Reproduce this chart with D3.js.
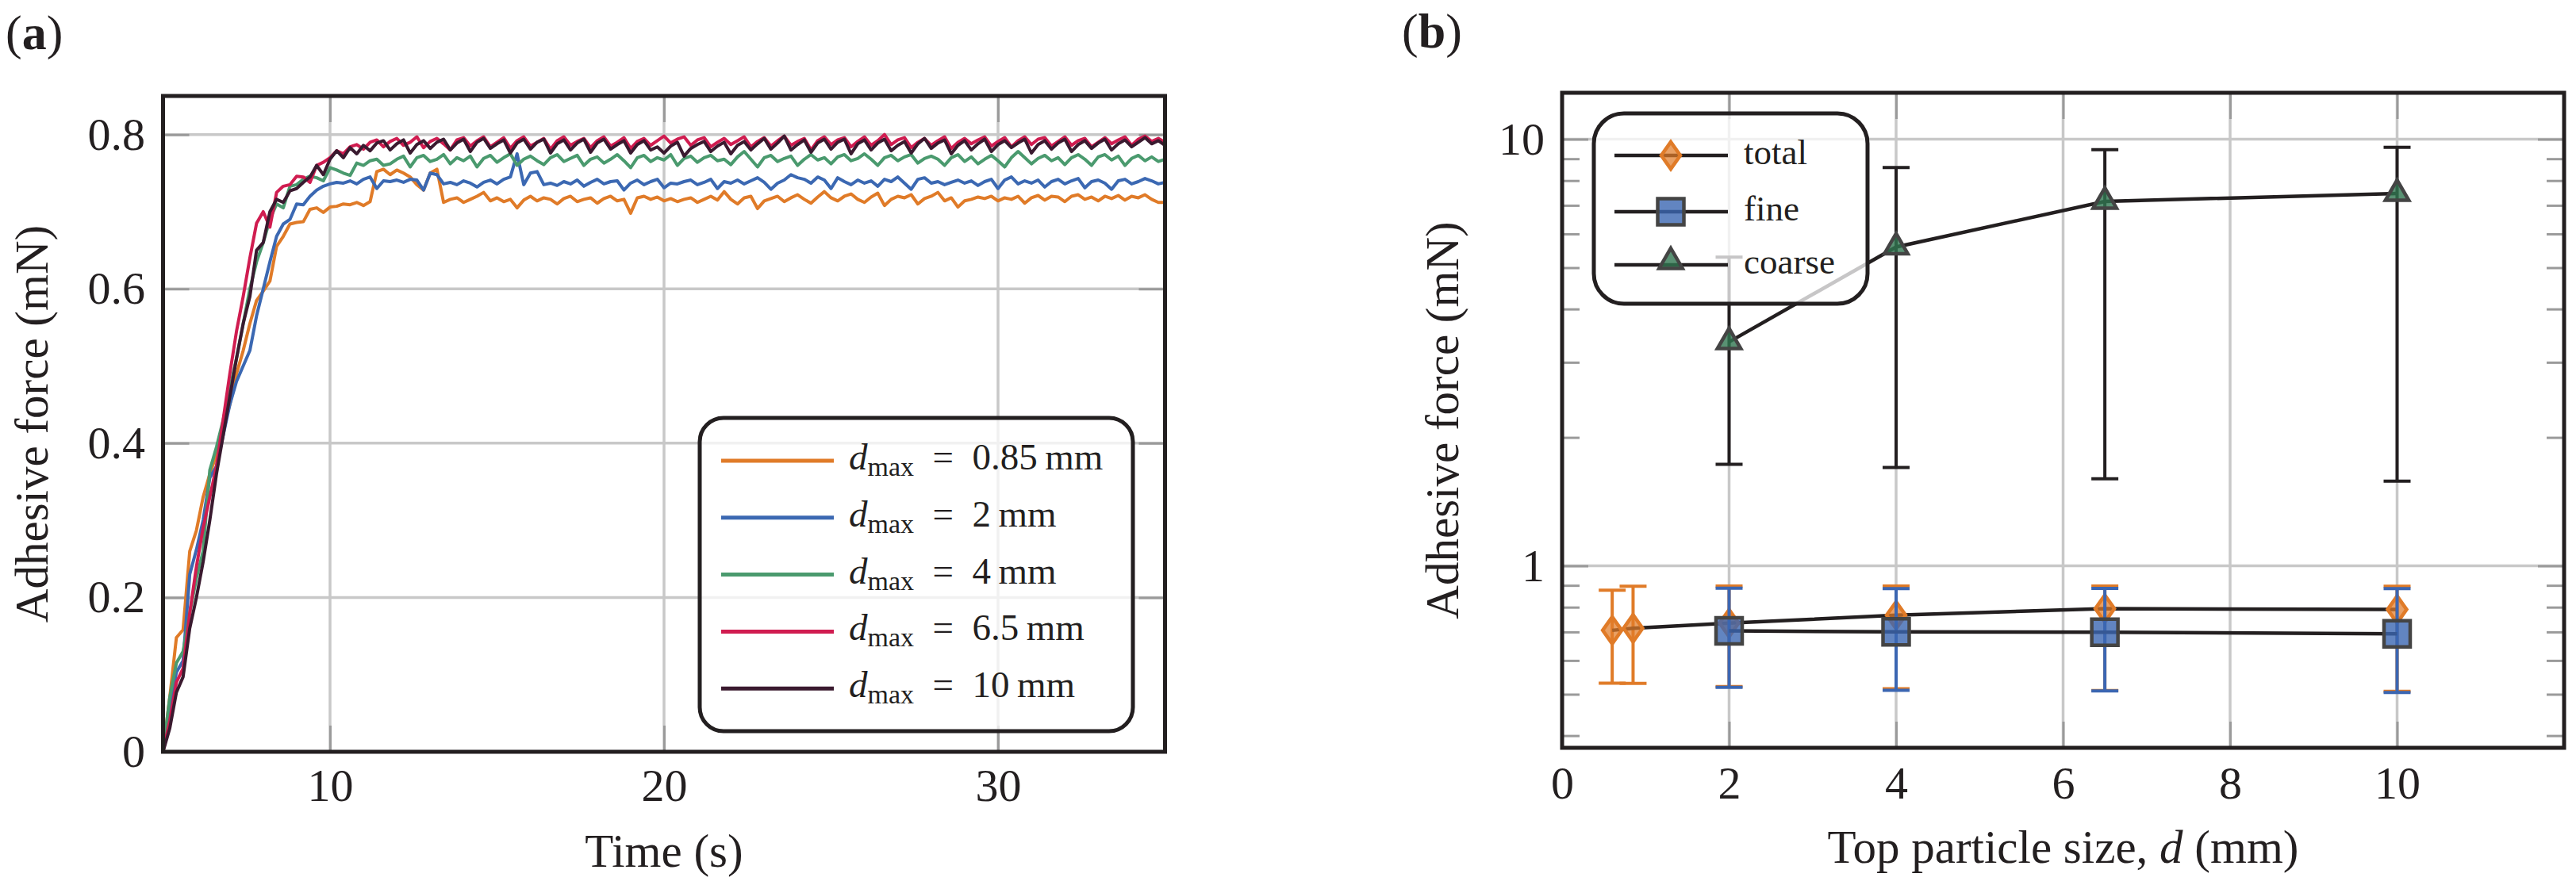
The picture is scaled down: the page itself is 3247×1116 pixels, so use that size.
<!DOCTYPE html>
<html><head><meta charset="utf-8">
<script src="https://cdn.jsdelivr.net/npm/d3@7"></script>
<style>
body{margin:0;background:#fff}
svg{display:block}
svg text{font-family:"Liberation Serif","DejaVu Serif","Times New Roman",serif !important;fill:#231f20}
</style>
</head><body>
<svg id="c" width="3247" height="1116" font-family="Liberation Serif, DejaVu Serif, serif"></svg>
<script>
// ---------- Panel (a) data ----------
const time = [5,5.2,5.4,5.6,5.8,6,6.2,6.4,6.6,6.8,7,7.2,7.4,7.6,7.8,8,8.2,8.4,8.6,8.8,9,9.2,9.4,9.6,9.8,10,10.2,10.4,10.6,10.8,11,11.2,11.4,11.6,11.8,12,12.2,12.4,12.6,12.8,13,13.2,13.4,13.6,13.8,14,14.2,14.4,14.6,14.8,15,15.2,15.4,15.6,15.8,16,16.2,16.4,16.6,16.8,17,17.2,17.4,17.6,17.8,18,18.2,18.4,18.6,18.8,19,19.2,19.4,19.6,19.8,20,20.2,20.4,20.6,20.8,21,21.2,21.4,21.6,21.8,22,22.2,22.4,22.6,22.8,23,23.2,23.4,23.6,23.8,24,24.2,24.4,24.6,24.8,25,25.2,25.4,25.6,25.8,26,26.2,26.4,26.6,26.8,27,27.2,27.4,27.6,27.8,28,28.2,28.4,28.6,28.8,29,29.2,29.4,29.6,29.8,30,30.2,30.4,30.6,30.8,31,31.2,31.4,31.6,31.8,32,32.2,32.4,32.6,32.8,33,33.2,33.4,33.6,33.8,34,34.2,34.4,34.6,34.8,35];

const force085 = [0,.07,.148,.158,.26, .287,.33,.36,.385,.42, .45,.49,.52,.555,.585, .597,.61,.655,.668,.684, .686,.687,.703,.705,.699, .706,.707,.71,.709,.712, .708,.713,.752,.755,.748, .754,.75,.745,.735,.728, .75,.755,.712,.716,.718, .712,.716,.72,.725,.714, .718,.713,.716,.705,.715, .72,.714,.718,.716,.71, .717,.72,.713,.716,.718, .711,.717,.72,.714,.716, .698,.718,.72,.716,.719, .714,.717,.713,.716,.718, .712,.716,.72,.715,.726, .716,.71,.718,.72,.704, .714,.717,.72,.713,.718, .722,.716,.711,.719,.726, .718,.714,.72,.723,.716, .712,.719,.724,.708,.716, .72,.718,.722,.71,.717, .72,.725,.714,.718,.706, .714,.716,.719,.717,.72, .714,.718,.716,.72,.711, .718,.721,.715,.72,.719, .713,.72,.722,.716,.719, .714,.72,.717,.721,.715, .72,.718,.722,.716,.712, .712];

const force2 = [0,.057,.103,.118,.23, .262,.3,.355,.37,.41, .45,.48,.5,.52,.565, .6,.635,.668,.684,.69, .71,.709,.72,.728,.733, .736,.738,.737,.74,.736, .742,.745,.73,.74,.739, .741,.738,.742,.741,.728, .75,.748,.736,.738,.735, .74,.737,.732,.738,.741, .736,.742,.745,.775,.735, .75,.752,.735,.737,.734, .739,.736,.741,.733,.738, .742,.736,.739,.74,.728, .737,.741,.735,.739,.742, .731,.737,.736,.739,.741, .735,.738,.742,.73,.739, .737,.741,.736,.74,.744, .738,.729,.737,.741,.748, .744,.742,.737,.745,.741, .73,.744,.739,.735,.741, .737,.74,.733,.742,.739, .745,.737,.729,.742,.744, .737,.739,.735,.738,.741, .737,.74,.734,.739,.742, .73,.741,.745,.736,.74, .737,.741,.732,.739,.742, .736,.74,.743,.731,.739, .741,.737,.729,.74,.742, .736,.739,.743,.74,.736, .738];

const force4 = [0,.07,.115,.13,.18, .225,.26,.365,.395,.43, .47,.51,.555,.6,.635, .66,.69,.71,.705,.733, .735,.742,.746,.744,.74, .757,.754,.75,.747,.763, .76,.766,.768,.76,.762, .768,.772,.758,.77,.773, .765,.768,.774,.762,.77, .766,.772,.758,.769,.773, .764,.77,.775,.76,.768, .772,.766,.761,.77,.774, .765,.769,.773,.76,.768, .771,.763,.768,.774,.766, .757,.77,.773,.765,.77, .767,.774,.76,.769,.772, .764,.77,.773,.766,.768, .761,.771,.778,.768,.758, .77,.773,.765,.769,.772, .76,.768,.774,.767,.77, .762,.771,.774,.766,.769, .775,.768,.76,.77,.773, .766,.771,.774,.763,.769, .772,.768,.76,.77,.774, .765,.771,.762,.768,.773, .766,.758,.77,.778,.77, .762,.769,.773,.766,.77, .761,.77,.774,.768,.76, .771,.774,.767,.772,.76, .769,.773,.766,.771,.765, .768];

const force65 = [0,.04,.09,.108,.18, .24,.29,.33,.37,.43, .49,.545,.59,.64,.685, .70,.68,.725,.733,.735, .746,.745,.738,.76,.764, .77,.779,.775,.784,.787, .781,.79,.793,.784,.791, .795,.786,.79,.797,.783, .791,.795,.788,.78,.793, .796,.785,.792,.797,.784, .79,.796,.782,.792,.797, .785,.79,.795,.781,.792, .797,.786,.791,.795,.783, .792,.797,.785,.79,.796, .782,.791,.795,.786,.792, .798,.789,.794,.797,.786, .793,.796,.784,.79,.795, .787,.792,.797,.784,.791, .796,.785,.792,.798,.786, .791,.795,.78,.792,.797, .787,.793,.796,.784,.791, .797,.786,.792,.8,.787, .793,.796,.783,.79,.795, .786,.792,.797,.782,.79, .795,.788,.793,.797,.785, .791,.796,.784,.792,.797, .787,.794,.796,.785,.791, .797,.786,.792,.795,.784, .79,.796,.788,.793,.797, .786,.794,.798,.791,.795, .79];

const force10 = [0,.03,.077,.097,.16, .2,.246,.3,.36,.41, .46,.51,.555,.59,.65, .66,.70,.716,.712,.727, .73,.738,.745,.76,.748, .768,.779,.77,.783,.775, .786,.779,.789,.792,.78, .788,.793,.776,.787,.792, .782,.79,.794,.78,.789, .794,.778,.79,.795,.782, .788,.793,.776,.789,.794, .781,.79,.794,.776,.788, .793,.78,.789,.794,.777, .789,.794,.781,.787,.792, .776,.787,.792,.78,.784, .776,.785,.79,.772,.782, .787,.791,.778,.785,.79, .775,.786,.791,.78,.788, .795,.781,.789,.798,.78, .787,.793,.777,.789,.794, .781,.79,.794,.775,.788, .793,.78,.789,.794,.779, .786,.791,.776,.788,.795, .782,.789,.793,.775,.786, .792,.78,.788,.794,.778, .787,.792,.783,.789,.794, .776,.787,.792,.781,.789, .794,.778,.787,.792,.782, .789,.794,.78,.788,.793, .784,.79,.796,.788,.792, .786];

const seriesLabelsA = ["0.85", "2", "4", "6.5", "10"];
const timeDomain = [5, 35];
const forceDomainA = [0, 0.85];
const timeTicks = [10, 20, 30];
const forceTicksA = [0, 0.2, 0.4, 0.6, 0.8];

// ---------- Panel (b) data ----------
const sizeTotal = [0.6, 0.85, 2, 4, 6.5, 10];
const totalMean = [0.706, 0.714, 0.734, 0.766, 0.794, 0.79];
const totalLow  = [0.531, 0.53, 0.521, 0.515, 0.51, 0.508];
const totalHigh = [0.877, 0.896, 0.897, 0.897, 0.897, 0.896];
const sizeParts = [2, 4, 6.5, 10];
const fineMean = [0.704, 0.70, 0.699, 0.693];
const fineLow  = [0.519, 0.511, 0.509, 0.505];
const fineHigh = [0.886, 0.884, 0.885, 0.884];
const coarseMean = [3.35, 5.59, 7.15, 7.46];
const coarseLow  = [1.73, 1.70, 1.60, 1.58];
const coarseHigh = [5.29, 8.58, 9.45, 9.57];
const seriesLabelsB = ["total", "fine", "coarse"];
const sizeDomain = [0, 12];
const forceDomainB = [0.3745, 12.85];
const sizeTicks = [0, 2, 4, 6, 8, 10];
const forceTicksB = [1, 10];

// ---------- styles ----------
const INK = "#231f20", GRID = "#c8c8c8", TICK = "#9a9a9a";
const colorsA = ["#e07b28", "#3b68b2", "#4a9a6e", "#d01c50", "#3a1a2f"];
const FS = 58, LFS = 59;
const FONT = '"Liberation Serif", "DejaVu Serif", serif';

const svg = d3.select("#c");

function frame(g, P) {
  g.append("rect").attr("x", P.l).attr("y", P.t).attr("width", P.r - P.l).attr("height", P.b - P.t)
    .attr("fill", "none").attr("stroke", INK).attr("stroke-width", 5);
}
function styleAxis(sel, showText) {
  sel.attr("font-family", null).attr("font-size", null);
  sel.select(".domain").remove();
  sel.selectAll(".tick line").attr("stroke", TICK).attr("stroke-width", 3);
  sel.selectAll(".tick text").attr("font-size", FS).attr("fill", INK).style("font-family", FONT);
  if (!showText) sel.selectAll(".tick text").remove();
}

// =============== Panel (a) ===============
const A = {l: 205.5, r: 1468.5, t: 121, b: 948};
const xA = d3.scaleLinear().domain(timeDomain).range([A.l, A.r]);
const yA = d3.scaleLinear().domain(forceDomainA).range([A.b, A.t]);
const gA = svg.append("g");

gA.append("g").selectAll("line").data(timeTicks).join("line")
  .attr("x1", d => xA(d)).attr("x2", d => xA(d)).attr("y1", A.t).attr("y2", A.b)
  .attr("stroke", GRID).attr("stroke-width", 3.5);
gA.append("g").selectAll("line").data(forceTicksA.filter(d => d > 0)).join("line")
  .attr("y1", d => yA(d)).attr("y2", d => yA(d)).attr("x1", A.l).attr("x2", A.r)
  .attr("stroke", GRID).attr("stroke-width", 3.5);

gA.append("g").attr("transform", `translate(0,${A.b})`)
  .call(d3.axisBottom(xA).tickValues(timeTicks).tickSize(-33).tickPadding(21).tickFormat(d3.format("d")))
  .call(s => styleAxis(s, true));
gA.append("g").attr("transform", `translate(0,${A.t})`)
  .call(d3.axisTop(xA).tickValues(timeTicks).tickSize(-33))
  .call(s => styleAxis(s, false));
gA.append("g").attr("transform", `translate(${A.l},0)`)
  .call(d3.axisLeft(yA).tickValues(forceTicksA).tickSize(-33).tickPadding(22.5)
        .tickFormat(d => d === 0 ? "0" : d3.format(".1f")(d)))
  .call(s => styleAxis(s, true));
gA.append("g").attr("transform", `translate(${A.r},0)`)
  .call(d3.axisRight(yA).tickValues(forceTicksA).tickSize(-33))
  .call(s => styleAxis(s, false));

const allA = [force085, force2, force4, force65, force10];
const lineA = d3.line().x((d, i) => xA(time[i])).y(d => yA(d)).defined((d, i) => time[i] !== undefined);
allA.forEach((vals, k) => {
  gA.append("path").datum(vals).attr("d", lineA).attr("fill", "none")
    .attr("stroke", colorsA[k]).attr("stroke-width", 4).attr("stroke-linejoin", "round");
});
frame(gA, A);

const LA = {x: 882, y: 527, w: 546, h: 395};
const lgA = gA.append("g");
lgA.append("rect").attr("x", LA.x).attr("y", LA.y).attr("width", LA.w).attr("height", LA.h)
  .attr("rx", 30).attr("fill", "#fff").attr("fill-opacity", 0.75).attr("stroke", INK).attr("stroke-width", 5);
seriesLabelsA.forEach((lab, k) => {
  const yy = 581 + k * 71.8;
  lgA.append("line").attr("x1", 909).attr("x2", 1051).attr("y1", yy).attr("y2", yy)
    .attr("stroke", colorsA[k]).attr("stroke-width", 5);
  const t = lgA.append("text").attr("x", 1070).attr("y", yy + 11).attr("font-size", 47).style("font-family", FONT);
  t.append("tspan").attr("font-style", "italic").text("d");
  t.append("tspan").attr("font-size", 34).attr("dy", 8).text("max");
  t.append("tspan").attr("dy", -8).text("\u2002=\u2002" + lab + "\u2009mm");
});

gA.append("text").attr("x", (A.l + A.r) / 2).attr("y", 1093).attr("text-anchor", "middle")
  .attr("font-size", LFS).style("font-family", FONT).text("Time (s)");
gA.append("text").attr("transform", `translate(60,${(A.t + A.b) / 2}) rotate(-90)`)
  .attr("text-anchor", "middle").attr("font-size", LFS).style("font-family", FONT).text("Adhesive force (mN)");
const pa = gA.append("text").attr("x", 7).attr("y", 62).attr("font-size", 62).style("font-family", FONT);
pa.append("tspan").text("(");
pa.append("tspan").attr("font-weight", "bold").text("a");
pa.append("tspan").text(")");

// =============== Panel (b) ===============
const B = {l: 1969, r: 3232, t: 117, b: 943};
const xB = d3.scaleLinear().domain(sizeDomain).range([B.l, B.r]);
const yB = d3.scaleLog().domain(forceDomainB).range([B.b, B.t]);
const gB = svg.append("g");

gB.append("g").selectAll("line").data(sizeTicks.filter(d => d > 0)).join("line")
  .attr("x1", d => xB(d)).attr("x2", d => xB(d)).attr("y1", B.t).attr("y2", B.b)
  .attr("stroke", GRID).attr("stroke-width", 3.5);
gB.append("g").selectAll("line").data(forceTicksB).join("line")
  .attr("y1", d => yB(d)).attr("y2", d => yB(d)).attr("x1", B.l).attr("x2", B.r)
  .attr("stroke", GRID).attr("stroke-width", 3.5);

const minorB = yB.ticks().filter(d => forceTicksB.indexOf(d) < 0);
gB.append("g").attr("transform", `translate(0,${B.b})`)
  .call(d3.axisBottom(xB).tickValues(sizeTicks).tickSize(-33).tickPadding(23).tickFormat(d3.format("d")))
  .call(s => styleAxis(s, true));
gB.append("g").attr("transform", `translate(0,${B.t})`)
  .call(d3.axisTop(xB).tickValues(sizeTicks).tickSize(-33))
  .call(s => styleAxis(s, false));
gB.append("g").attr("transform", `translate(${B.l},0)`)
  .call(d3.axisLeft(yB).tickValues(forceTicksB).tickSize(-33).tickPadding(22).tickFormat(d3.format("d")))
  .call(s => styleAxis(s, true));
gB.append("g").attr("transform", `translate(${B.r},0)`)
  .call(d3.axisRight(yB).tickValues(forceTicksB).tickSize(-33))
  .call(s => styleAxis(s, false));
gB.append("g").attr("transform", `translate(${B.l},0)`)
  .call(d3.axisLeft(yB).tickValues(minorB).tickSize(-22).tickFormat(""))
  .call(s => styleAxis(s, false));
gB.append("g").attr("transform", `translate(${B.r},0)`)
  .call(d3.axisRight(yB).tickValues(minorB).tickSize(-22).tickFormat(""))
  .call(s => styleAxis(s, false));

const diamondPath = "M0,-17L12,0L0,17L-12,0Z";
const squarePath = d3.symbol(d3.symbolSquare, 33 * 33)();
const trianglePath = d3.symbol(d3.symbolTriangle, 3 * Math.sqrt(3) * 17 * 17 / 4)();

const seriesB = [
  {xs: sizeTotal, m: totalMean, lo: totalLow, hi: totalHigh, err: "#e07b28", path: diamondPath, fill: "#e07b28", stroke: "#e07b28", op: 0.72},
  {xs: sizeParts, m: fineMean, lo: fineLow, hi: fineHigh, err: "#3b66b2", path: squarePath, fill: "#3b66b2", stroke: "#444444", op: 0.8},
  {xs: sizeParts, m: coarseMean, lo: coarseLow, hi: coarseHigh, err: INK, path: trianglePath, fill: "#2f7550", stroke: "#444444", op: 0.8}
];
const lineB = d3.line().x(d => xB(d[0])).y(d => yB(d[1]));
seriesB.forEach(s => {
  const pts = s.xs.map((x, i) => [x, s.m[i], s.lo[i], s.hi[i]]);
  const g = gB.append("g");
  g.selectAll(".eb").data(pts).join("line")
    .attr("x1", d => xB(d[0])).attr("x2", d => xB(d[0])).attr("y1", d => yB(d[2])).attr("y2", d => yB(d[3]))
    .attr("stroke", s.err).attr("stroke-width", 4);
  [2, 3].forEach(j => {
    g.selectAll(".cap" + j).data(pts).join("line")
      .attr("x1", d => xB(d[0]) - 17).attr("x2", d => xB(d[0]) + 17)
      .attr("y1", d => yB(d[j])).attr("y2", d => yB(d[j]))
      .attr("stroke", s.err).attr("stroke-width", 4);
  });
  g.append("path").datum(pts).attr("d", lineB).attr("fill", "none").attr("stroke", INK).attr("stroke-width", 4.5);
  g.selectAll(".mk").data(pts).join("path")
    .attr("transform", d => `translate(${xB(d[0])},${yB(d[1])})`)
    .attr("d", s.path).attr("fill", s.fill).attr("fill-opacity", s.op)
    .attr("stroke", s.stroke).attr("stroke-width", 4.5);
});
frame(gB, B);

const LB = {x: 2009, y: 143, w: 345, h: 240};
const lgB = gB.append("g");
lgB.append("rect").attr("x", LB.x).attr("y", LB.y).attr("width", LB.w).attr("height", LB.h)
  .attr("rx", 38).attr("fill", "#fff").attr("fill-opacity", 0.75).attr("stroke", INK).attr("stroke-width", 5);
const rowsB = [196, 267, 334];
seriesB.forEach((s, k) => {
  const yy = rowsB[k];
  lgB.append("line").attr("x1", 2035).attr("x2", 2178).attr("y1", yy).attr("y2", yy)
    .attr("stroke", INK).attr("stroke-width", 4.5);
  lgB.append("path").attr("transform", `translate(2106,${k === 2 ? yy - 4 : yy})`).attr("d", s.path)
    .attr("fill", s.fill).attr("fill-opacity", s.op).attr("stroke", s.stroke).attr("stroke-width", 4.5);
  lgB.append("text").attr("x", 2198).attr("y", yy + 11).attr("font-size", 45).style("font-family", FONT).text(seriesLabelsB[k]);
});

const xl = gB.append("text").attr("x", (B.l + B.r) / 2).attr("y", 1088).attr("text-anchor", "middle")
  .attr("font-size", LFS).style("font-family", FONT);
xl.append("tspan").text("Top particle size, ");
xl.append("tspan").attr("font-style", "italic").text("d");
xl.append("tspan").text(" (mm)");
gB.append("text").attr("transform", `translate(1838,${(B.t + B.b) / 2}) rotate(-90)`)
  .attr("text-anchor", "middle").attr("font-size", LFS).style("font-family", FONT).text("Adhesive force (mN)");
const pb = gB.append("text").attr("x", 1767).attr("y", 60).attr("font-size", 62).style("font-family", FONT);
pb.append("tspan").text("(");
pb.append("tspan").attr("font-weight", "bold").text("b");
pb.append("tspan").text(")");
</script>
</body></html>
